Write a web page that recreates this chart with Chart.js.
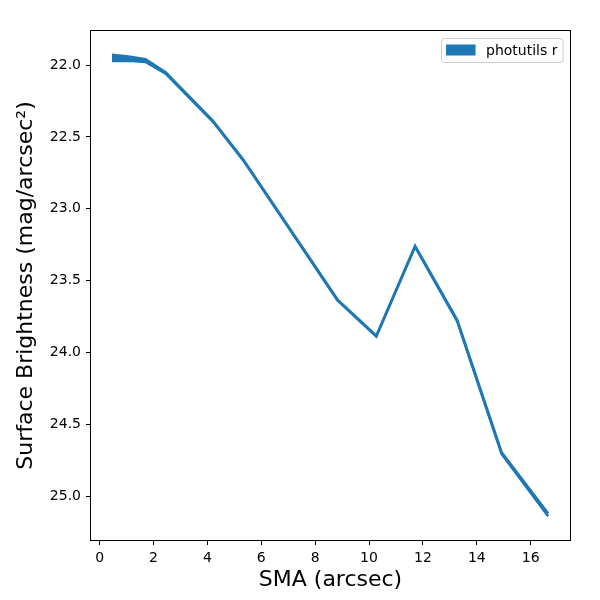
<!DOCTYPE html>
<html>
<head>
<meta charset="utf-8">
<title>Surface brightness profile</title>
<script src="https://cdn.jsdelivr.net/npm/chart.js@4.4.1/dist/chart.umd.min.js"></script>
<style>
  html, body { margin: 0; padding: 0; background: #fff; }
  #wrap { width: 600px; height: 600px; }
</style>
</head>
<body>
<div id="wrap"><canvas id="profile" width="600" height="600"></canvas></div>
<script>
// isophote profile
const sma = [0.46, 1.07, 1.7, 2.45, 4.2, 5.33, 8.83, 10.27, 11.71, 13.27, 14.92, 16.65];
const surfBright = [21.95, 21.955, 21.969, 22.055, 22.39, 22.66, 23.635, 23.886, 23.262, 23.777, 24.70, 25.13];
const surfBrightErr = [0.021, 0.014, 0.009, 0.004, 0.003, 0.003, 0.003, 0.003, 0.003, 0.004, 0.006, 0.01];

const xTicks = [0, 2, 4, 6, 8, 10, 12, 14, 16];
const yTicks = [22.0, 22.5, 23.0, 23.5, 24.0, 24.5, 25.0];
const seriesLabel = 'photutils r';

const blue = '#1f77b4';

const lower = sma.map((x, i) => ({ x: x, y: surfBright[i] - surfBrightErr[i] }));
const upper = sma.map((x, i) => ({ x: x, y: surfBright[i] + surfBrightErr[i] }));

Chart.defaults.font.family = 'DejaVu Sans';
Chart.defaults.color = '#000';

// matplotlib style box round the axes plus the legend in the upper right
const framePlugin = {
  id: 'frame',
  afterDraw(chart) {
    const { ctx, chartArea: a } = chart;
    ctx.save();
    ctx.strokeStyle = '#000';
    ctx.lineWidth = 1;
    ctx.strokeRect(a.left - 0.5, a.top - 0.5, a.right - a.left + 1, a.bottom - a.top + 1);

    ctx.font = '14px "DejaVu Sans"';
    const textW = ctx.measureText(seriesLabel).width;
    const boxW = 4.5 + 29.5 + 10.5 + textW + 5.5;
    const boxH = 24;
    const bx = a.right - 7 - boxW;
    const by = a.top + 7.5;

    ctx.beginPath();
    ctx.roundRect(bx, by, boxW, boxH, 3);
    ctx.fillStyle = 'rgba(255,255,255,0.8)';
    ctx.fill();
    ctx.strokeStyle = '#cccccc';
    ctx.stroke();

    ctx.fillStyle = blue;
    ctx.fillRect(bx + 4.5, by + 6, 29.5, 11);

    ctx.fillStyle = '#000';
    ctx.textBaseline = 'alphabetic';
    ctx.textAlign = 'left';
    ctx.fillText(seriesLabel, bx + 4.5 + 29.5 + 10.5, by + 16.5);
    ctx.restore();
  }
};

new Chart(document.getElementById('profile'), {
  type: 'line',
  data: {
    datasets: [
      {
        label: seriesLabel + ' lower',
        data: lower,
        borderColor: blue,
        backgroundColor: blue,
        borderWidth: 2.6,
        pointRadius: 0,
        tension: 0,
        fill: false
      },
      {
        label: seriesLabel,
        data: upper,
        borderColor: blue,
        backgroundColor: blue,
        borderWidth: 2.6,
        pointRadius: 0,
        tension: 0,
        fill: '-1'
      }
    ]
  },
  options: {
    responsive: false,
    animation: false,
    layout: { padding: { top: 31, right: 30, left: 0, bottom: 0 } },
    plugins: {
      legend: { display: false },
      tooltip: { enabled: false }
    },
    scales: {
      x: {
        type: 'linear',
        min: -0.32,
        max: 17.46,
        afterFit: (s) => { s.height = 60; },
        afterBuildTicks: (s) => { s.ticks = xTicks.map(v => ({ value: v })); },
        border: { display: false },
        grid: { drawOnChartArea: false, drawTicks: true, tickLength: 5, tickColor: '#000' },
        ticks: {
          padding: 5,
          maxRotation: 0,
          font: { size: 14 },
          callback: (v) => String(v)
        },
        title: {
          display: true,
          text: 'SMA (arcsec)',
          font: { size: 22 },
          padding: { top: 0, bottom: 7 }
        }
      },
      y: {
        type: 'linear',
        reverse: true,
        min: 21.763,
        max: 25.305,
        afterFit: (s) => { s.width = 91; },
        afterBuildTicks: (s) => { s.ticks = yTicks.map(v => ({ value: v })); },
        border: { display: false },
        grid: { drawOnChartArea: false, drawTicks: true, tickLength: 5, tickColor: '#000' },
        ticks: {
          padding: 5,
          font: { size: 14 },
          callback: (v) => v.toFixed(1)
        },
        title: {
          display: true,
          text: 'Surface Brightness (mag/arcsec²)',
          font: { size: 22 },
          padding: { top: 13, bottom: 0 }
        }
      }
    }
  },
  plugins: [framePlugin]
});
</script>
</body>
</html>
